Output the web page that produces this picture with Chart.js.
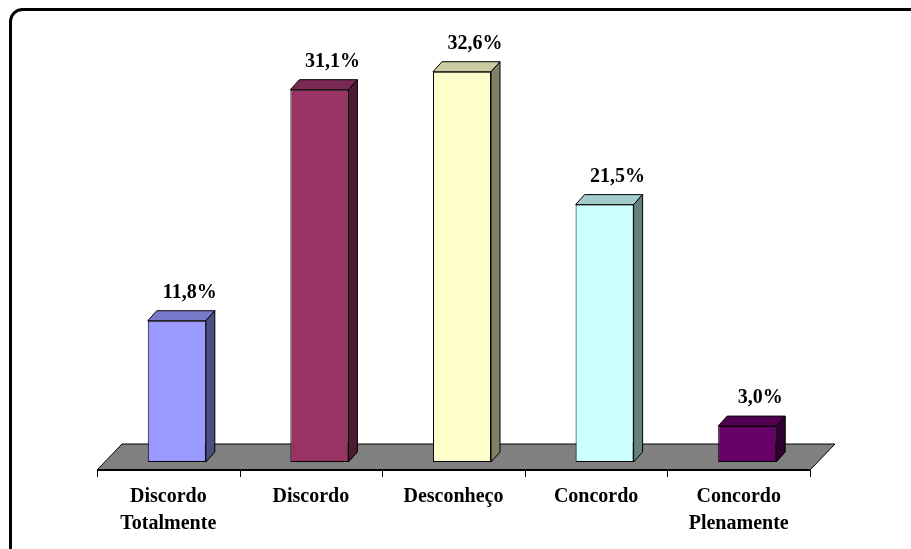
<!DOCTYPE html>
<html>
<head>
<meta charset="utf-8">
<script src="https://cdn.jsdelivr.net/npm/chart.js@4/dist/chart.umd.min.js"></script>
<style>
  html, body { margin: 0; padding: 0; background: #ffffff; }
  #chart { display: block; }
</style>
</head>
<body>
<canvas id="chart" width="911" height="549"></canvas>
<script>
// ---- data ----
const categories  = [['Discordo', 'Totalmente'], 'Discordo', 'Desconheço', 'Concordo', ['Concordo', 'Plenamente']];
const percentages = [11.8, 31.1, 32.6, 21.5, 3.0];
const barColors   = ['#9999FF', '#993366', '#FFFFCC', '#CCFFFF', '#660066'];

const FONT = '"Liberation Serif", "Times New Roman", serif';
const DEPTH_X = 9, DEPTH_Y = 10;      // bar 3D depth
const FLOOR_X = 25, FLOOR_Y = 26;     // floor depth
const SHIFT = -8.5;                   // floor/axis offset from bar centres

function shade(hex, f) {
    const n = parseInt(hex.slice(1), 16);
    const r = Math.round(((n >> 16) & 255) * f);
    const g = Math.round(((n >> 8) & 255) * f);
    const b = Math.round((n & 255) * f);
    return `rgb(${r},${g},${b})`;
}

// floor, axis line and tick marks
const floorPlugin = {
    id: 'floor',
    beforeDatasetsDraw(chart) {
        const { ctx, scales: { x, y } } = chart;
        const zero = y.getPixelForValue(0);
        const fy = zero + 8;
        const l = x.left + SHIFT, r = x.right + SHIFT;
        ctx.save();
        ctx.beginPath();
        ctx.moveTo(l, fy);
        ctx.lineTo(r, fy);
        ctx.lineTo(r + FLOOR_X, fy - FLOOR_Y);
        ctx.lineTo(l + FLOOR_X, fy - FLOOR_Y);
        ctx.closePath();
        ctx.fillStyle = '#808080';
        ctx.fill();
        ctx.strokeStyle = '#000000';
        ctx.lineWidth = 1;
        ctx.stroke();

        ctx.beginPath();
        ctx.lineWidth = 2;
        ctx.moveTo(l, fy);
        ctx.lineTo(r, fy);
        ctx.stroke();

        ctx.lineWidth = 1;
        const step = (x.right - x.left) / categories.length;
        for (let i = 0; i <= categories.length; i++) {
            const tx = Math.round(l + i * step) + 0.5;
            ctx.beginPath();
            ctx.moveTo(tx, fy);
            ctx.lineTo(tx, fy + 7);
            ctx.stroke();
        }
        ctx.restore();
    }
};

// top + side faces of bars, value labels
const bar3dPlugin = {
    id: 'bar3d',
    afterDatasetsDraw(chart) {
        const { ctx } = chart;
        const meta = chart.getDatasetMeta(0);
        ctx.save();
        ctx.lineWidth = 1;
        ctx.strokeStyle = '#000000';
        ctx.lineJoin = 'round';
        meta.data.forEach((bar, i) => {
            const { x, y, base, width } = bar.getProps(['x', 'y', 'base', 'width'], true);
            const x0 = x - width / 2, x1 = x + width / 2;
            const col = barColors[i];

            // top face
            ctx.beginPath();
            ctx.moveTo(x0, y);
            ctx.lineTo(x1, y);
            ctx.lineTo(x1 + DEPTH_X, y - DEPTH_Y);
            ctx.lineTo(x0 + DEPTH_X, y - DEPTH_Y);
            ctx.closePath();
            ctx.fillStyle = shade(col, 0.8);
            ctx.fill();
            ctx.stroke();

            // side face
            ctx.beginPath();
            ctx.moveTo(x1, y);
            ctx.lineTo(x1 + DEPTH_X, y - DEPTH_Y);
            ctx.lineTo(x1 + DEPTH_X, base - DEPTH_Y);
            ctx.lineTo(x1, base);
            ctx.closePath();
            ctx.fillStyle = shade(col, 0.5);
            ctx.fill();
            ctx.stroke();

            // value label
            ctx.fillStyle = '#000000';
            ctx.font = `bold 20px ${FONT}`;
            ctx.textAlign = 'center';
            ctx.textBaseline = 'alphabetic';
            ctx.fillText(percentages[i].toFixed(1).replace('.', ',') + '%', x + 13, y - 23);
        });
        ctx.restore();
    }
};

// rounded outer frame
const framePlugin = {
    id: 'frame',
    afterDraw(chart) {
        const { ctx } = chart;
        ctx.save();
        ctx.strokeStyle = '#000000';
        ctx.lineWidth = 3;
        ctx.beginPath();
        ctx.roundRect(10.5, 9.5, 925, 570, 12);
        ctx.stroke();
        ctx.restore();
    }
};

new Chart(document.getElementById('chart'), {
    type: 'bar',
    data: {
        labels: categories,
        datasets: [{
            data: percentages,
            backgroundColor: barColors,
            borderColor: '#000000',
            borderWidth: 1,
            borderSkipped: false,
            categoryPercentage: 1,
            barPercentage: 0.407,
        }]
    },
    options: {
        responsive: false,
        animation: false,
        events: [],
        layout: { padding: { top: 43, left: 105.5, right: 92.5, bottom: 0 } },
        scales: {
            x: {
                grid: { display: false, drawTicks: false },
                border: { display: false },
                ticks: {
                    color: '#000000',
                    font: { family: FONT, size: 20, weight: 'bold', lineHeight: 1.35 },
                    padding: 21,
                    labelOffset: SHIFT,
                    maxRotation: 0,
                    autoSkip: false,
                },
                afterFit: s => { s.height = 87; }
            },
            y: {
                display: false,
                min: 0,
                max: 35,
            }
        },
        plugins: {
            legend: { display: false },
            tooltip: { enabled: false },
        }
    },
    plugins: [floorPlugin, bar3dPlugin, framePlugin]
});
</script>
</body>
</html>
